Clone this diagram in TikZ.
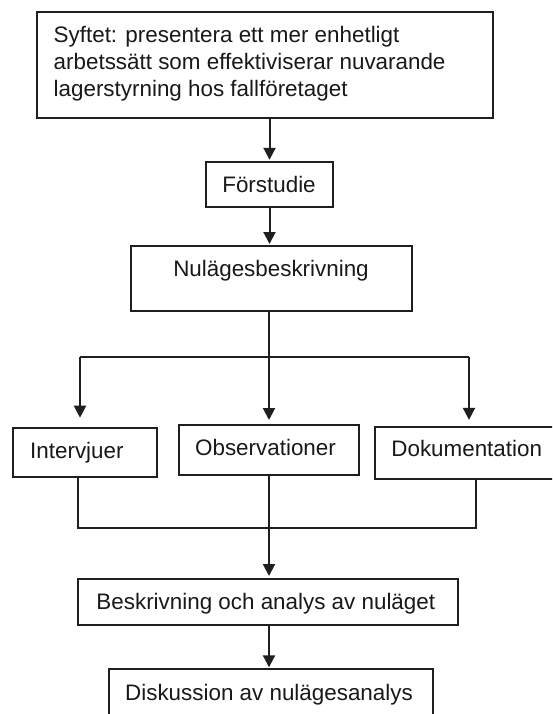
\documentclass[tikz,border=0pt]{standalone}
\usepackage{fontspec}
\setmainfont{Liberation Sans}
\usetikzlibrary{arrows.meta}

\tikzset{
  box/.style={draw=black!88, line width=2pt, rectangle, inner sep=0pt},
  txt/.style={inner sep=0pt, text=black!90, font=\fontsize{22.4}{27.2}\selectfont},
  link/.style={draw=black!88, line width=2pt},
  arr/.style={link, -{Triangle[length=12pt,width=12pt]}},
}

\begin{document}
\begin{tikzpicture}[x=1pt,y=-1pt]
  \clip (0,0) rectangle (552,714);
  \fill[white] (0,0) rectangle (552,714);

  % boxes
  \node[box, minimum width=456pt, minimum height=106pt] (top) at (265,65.3) {};
  \node[box, minimum width=127pt, minimum height=45pt]  (fst) at (269.5,184.8) {};
  \node[box, minimum width=281pt, minimum height=65pt]  (nul) at (271.5,278.5) {};
  \node[box, minimum width=144pt, minimum height=49pt]  (int) at (84.7,452.2) {};
  \node[box, minimum width=180pt, minimum height=50pt]  (obs) at (269,450) {};
  \node[box, minimum width=185pt, minimum height=51.7pt] (dok) at (467,453.2) {};
  \node[box, minimum width=380pt, minimum height=46pt]  (bes) at (268,602) {};
  \node[box, minimum width=324pt, minimum height=50pt]  (dis) at (270.5,694.3) {};

  % texts (the base of a multi-line node is its last line)
  \node[txt, anchor=base west, align=left] (ttop) at (53.5,96.7)
    {Syftet: presentera ett mer enhetligt\\arbetssätt som effektiviserar nuvarande\\lagerstyrning hos fallföretaget};
  \node[txt, anchor=base] (tfst) at (269,192.3) {Förstudie};
  \node[txt, anchor=base] (tnul) at (271,276.7) {Nulägesbeskrivning};
  \node[txt, anchor=base west] (tint) at (30,458.3) {Intervjuer};
  \node[txt, anchor=base] (tobs) at (265.5,455) {Observationer};
  \node[txt, anchor=base] (tdok) at (466.7,456.7) {Dokumentation};
  \node[txt, anchor=base] (tbes) at (265.8,609) {Beskrivning och analys av nuläget};
  \node[txt, anchor=base] (tdis) at (269,700) {Diskussion av nulägesanalys};

  % branching and joining points
  \coordinate (split) at (269,356.7);
  \coordinate (sl) at (80,356.7);
  \coordinate (sr) at (469,356.7);
  \coordinate (jl) at (78,528.3);
  \coordinate (jm) at (269,528.3);
  \coordinate (jr) at (476,528.3);

  % connectors
  \draw[arr, shorten >=1.5pt] (top.south -| fst.north) -- (fst.north);
  \draw[arr, shorten >=1pt] (fst.south) -- (nul.north -| fst.south);
  \draw[link] (nul.south -| split) -- (split);
  \draw[link] (sl) -- (sr);
  \draw[arr, shorten >=9pt] (sl) -- (sl |- int.north);
  \draw[arr, shorten >=4pt] (split) -- (split |- obs.north);
  \draw[arr, shorten >=6.5pt] (sr) -- (sr |- dok.north);

  \draw[link] (int.south -| jl) -- (jl) -- (jr) -- (jr |- dok.south);
  \draw[link] (obs.south -| jm) -- (jm);
  \draw[arr, shorten >=2pt] (jm) -- (jm |- bes.north);
  \draw[arr, shorten >=1pt] (bes.south -| jm) -- (jm |- dis.north);
\end{tikzpicture}
\end{document}
